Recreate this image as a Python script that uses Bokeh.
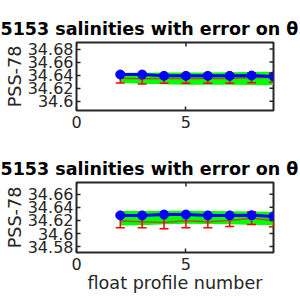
import math
from bokeh.plotting import figure
from bokeh.layouts import column
from bokeh.models import Range1d, FixedTicker, Title, ColumnDataSource
from bokeh.embed import file_html
from bokeh.resources import INLINE

# ---- data ----
profiles = [2, 3, 4, 5, 6, 7, 8, 9]

top_blue = [34.641, 34.641, 34.639, 34.639, 34.639, 34.639, 34.6395, 34.638]
top_red = [34.6355, 34.6345, 34.635, 34.635, 34.635, 34.635, 34.636, 34.6365]
top_err = [0.0075, 0.0078, 0.0075, 0.0075, 0.0075, 0.0075, 0.0075, 0.0072]
top_green_hi = [34.6436, 34.6438, 34.644, 34.644, 34.6442, 34.6445, 34.6448, 34.6452]
top_green_lo = [34.6279, 34.627, 34.626, 34.6255, 34.6255, 34.6252, 34.625, 34.6248]
top_yticks = [34.6, 34.62, 34.64, 34.66, 34.68]
top_ylabels = ["34.6", "34.62", "34.64", "34.66", "34.68"]

bot_blue = [34.6277, 34.6277, 34.629, 34.629, 34.6277, 34.6277, 34.628, 34.6262]
bot_red = [34.619, 34.618, 34.617, 34.6195, 34.618, 34.62, 34.6235, 34.62]
bot_err = [0.0102, 0.0092, 0.0098, 0.0107, 0.0092, 0.0092, 0.0097, 0.0097]
bot_green_hi = [34.6343, 34.6345, 34.635, 34.635, 34.6345, 34.634, 34.6338, 34.6334]
bot_green_lo = [34.6123, 34.6125, 34.614, 34.615, 34.6145, 34.614, 34.6135, 34.6128]
bot_yticks = [34.58, 34.6, 34.62, 34.64, 34.66]
bot_ylabels = ["34.58", "34.6", "34.62", "34.64", "34.66"]

xticks = [0, 5]
xlim = (0, 9)
top_ylim = (34.586, 34.690)
bot_ylim = (34.571, 34.678)
title_text = "5153 salinities with error on \u03b8"

AX = "#262626"
FONT = "DejaVu Sans"


def make(blue, red, err, ghi, glo, yticks, ylabels, yr, top_b, bot_b, xlabel):
    p = figure(width=300, height=150,
               output_backend="svg", toolbar_location=None,
               x_range=Range1d(*xlim), y_range=Range1d(*yr),
               min_border_left=76, min_border_right=27,
               min_border_top=top_b, min_border_bottom=bot_b)
    p.background_fill_color = "white"
    p.border_fill_color = "white"
    p.grid.visible = False
    p.outline_line_color = AX
    p.outline_line_width = 2

    p.xaxis.ticker = FixedTicker(ticks=xticks)
    p.yaxis.ticker = FixedTicker(ticks=yticks)
    for ax in p.axis:
        ax.axis_line_color = None
        ax.major_tick_in = 4
        ax.major_tick_out = 0
        ax.major_tick_line_color = AX
        ax.major_tick_line_width = 1.5
        ax.minor_tick_line_color = None
        ax.major_label_text_font = FONT
        ax.major_label_text_font_size = "16px"
        ax.major_label_text_color = AX
        ax.axis_label_text_font = FONT
        ax.axis_label_text_font_size = "17.6px"
        ax.axis_label_text_font_style = "normal"
        ax.axis_label_text_color = AX

    left = p.yaxis[0]
    left.major_label_overrides = {t: s for t, s in zip(yticks, ylabels)}
    left.major_label_standoff = 3
    left.axis_label = "PSS-78"
    left.axis_label_standoff = 0
    bottom = p.xaxis[0]
    bottom.major_label_standoff = 5
    if xlabel:
        bottom.axis_label = xlabel
        bottom.axis_label_standoff = 0

    lo = [r - e for r, e in zip(red, err)]
    hi = [r + e for r, e in zip(red, err)]
    src = ColumnDataSource(dict(x=profiles, blue=blue, red=red, lo=lo, hi=hi, ghi=ghi, glo=glo))

    p.varea(x="x", y1="glo", y2="ghi", source=src, fill_color="#00ff00")
    p.line(x="x", y="red", source=src, line_color="#b4501e", line_width=1.5)
    p.segment(x0="x", y0="lo", x1="x", y1="hi", source=src, line_color="#ff0000", line_width=1.5)
    p.scatter(x="x", y="lo", source=src, marker="dash", size=9, line_color="#ff0000", line_width=1.5)
    p.scatter(x="x", y="hi", source=src, marker="dash", size=9, line_color="#ff0000", line_width=1.5)
    p.line(x="x", y="blue", source=src, line_color="#0000ff", line_width=3)
    p.scatter(x="x", y="blue", source=src, marker="circle", size=9,
              fill_color="#0000ff", line_color="#0000ff")

    # inward ticks on the right and top borders (half of each dash is clipped by the frame)
    p.scatter(x=[xlim[1]] * len(yticks), y=yticks, marker="dash", size=8,
              line_color=AX, line_width=1.5)
    p.scatter(x=xticks, y=[yr[1]] * len(xticks), marker="dash", size=8, angle=math.pi / 2,
              line_color=AX, line_width=1.5)

    # title (the reference shows it starting at the left edge)
    p.add_layout(Title(text=title_text, align="left", offset=-76, standoff=8,
                       text_font=FONT, text_font_size="17.5px", text_font_style="bold",
                       text_color="black"), "above")
    return p


p1 = make(top_blue, top_red, top_err, top_green_hi, top_green_lo, top_yticks, top_ylabels,
          top_ylim, 42, 40, None)
p2 = make(bot_blue, bot_red, bot_err, bot_green_hi, bot_green_lo, bot_yticks, bot_ylabels,
          bot_ylim, 32, 48, "float profile number")

layout = column(p1, p2, spacing=0)
open("out.html", "w").write(file_html(layout, INLINE))
